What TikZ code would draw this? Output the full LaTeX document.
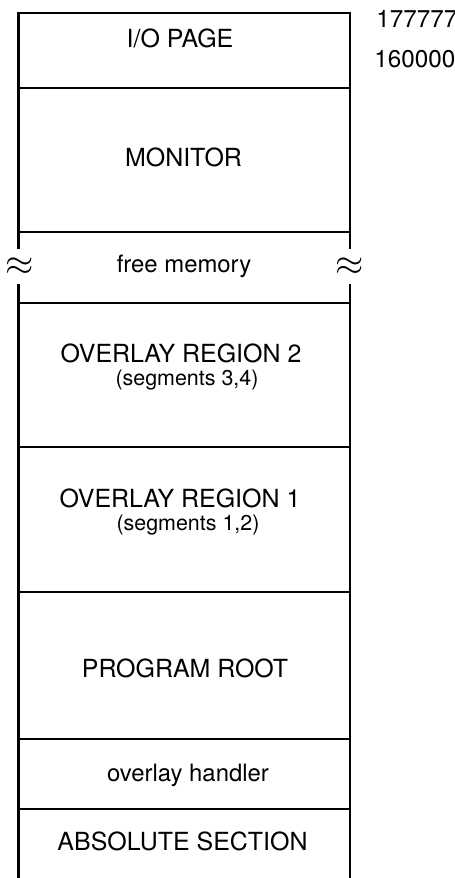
\documentclass[tikz,border=0pt]{standalone}
\usepackage{fontspec}
\setmainfont{TeX Gyre Heros}
\begin{document}
\begin{tikzpicture}[x=0.02cm,y=-0.02cm,
  wall/.style={line width=1.3pt,line cap=rect},
  big/.style={font=\fontsize{14.2}{17}\selectfont,inner sep=0pt,anchor=base},
  lower/.style={font=\fontsize{13.6}{16}\selectfont,inner sep=0pt,anchor=base},
  small/.style={font=\fontsize{12.2}{14}\selectfont,inner sep=0pt,anchor=base},
  addr/.style={font=\fontsize{13.8}{16}\selectfont,inner sep=0pt,anchor=base west},
  brk/.style={font=\fontsize{21}{24}\selectfont,inner sep=0pt}]
\useasboundingbox (0,0) rectangle (455,878);
% named corner coordinates
\coordinate (tl) at (18.5,13);   \coordinate (tr) at (350,13);
\coordinate (l1) at (18.5,88);   \coordinate (r1) at (350,88);
\coordinate (l2) at (18.5,232);  \coordinate (r2) at (350,232);
\coordinate (lg1) at (18.5,248); \coordinate (rg1) at (350,248);
\coordinate (lg2) at (18.5,284); \coordinate (rg2) at (350,284);
\coordinate (l3) at (18.5,303);  \coordinate (r3) at (350,303);
\coordinate (l4) at (18.5,447);  \coordinate (r4) at (350,447);
\coordinate (l5) at (18.5,592);  \coordinate (r5) at (350,592);
\coordinate (l6) at (18.5,739);  \coordinate (r6) at (350,739);
\coordinate (l7) at (18.5,809);  \coordinate (r7) at (350,809);
\coordinate (lb) at (18.5,878);  \coordinate (rb) at (350,878);
% outer walls
\draw[wall] (lg1) -- (tl) -- (tr) -- (rg1);
\draw[line width=1.3pt] (lg2) -- (lb);
\draw[line width=1.3pt] (rg2) -- (rb);
% dividing lines
\foreach \i in {1,...,7} \draw[wall] (l\i) -- (r\i);
% break marks
\node[brk] (bl) at (20,267) {$\approx$};
\node[brk] (br) at (350,267) {$\approx$};
% labels
\node[big] (io) at (180,48) {I/O PAGE};
\node[big] (mon) at (183.5,167) {MONITOR};
\node[lower] (free) at (184,273) {free memory};
\node[big] (ov2) at (181,362) {OVERLAY REGION 2};
\node[small] (seg2) at (187,385.5) {(segments 3,4)};
\node[big] (ov1) at (180,507) {OVERLAY REGION 1};
\node[small] (seg1) at (188,530.5) {(segments 1,2)};
\node[big] (root) at (185,677) {PROGRAM ROOT};
\node[lower] (hand) at (188,781) {overlay handler};
\node[big] (abs) at (182.5,850) {ABSOLUTE SECTION};
\node[addr] (a1) at (376,28) {177777};
\node[addr] (a2) at (374,68) {160000};
\end{tikzpicture}
\end{document}
